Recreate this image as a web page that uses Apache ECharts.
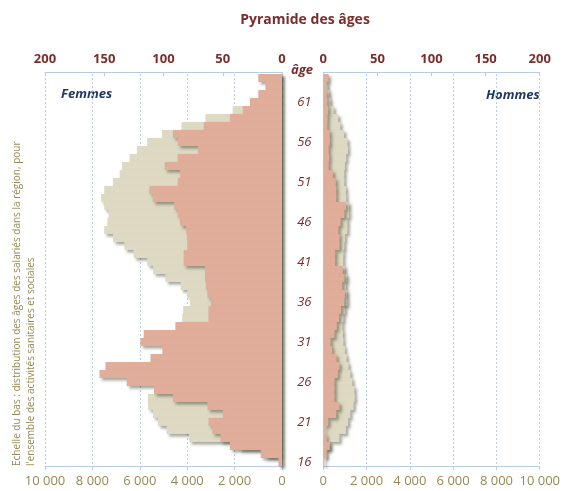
<!DOCTYPE html>
<html><head><meta charset="utf-8">
<script src="https://cdn.jsdelivr.net/npm/echarts@6/dist/echarts.min.js"></script>
<style>html,body{margin:0;padding:0;background:#fff}#c{width:563px;height:491px}</style>
</head><body><div id="c"></div>
<script>
// Ages 16..64 (ascending)
const ages = [];
for (let a = 16; a <= 64; a++) ages.push(a);
// Femmes - bottom scale (region distribution)
const femmesRegion = [100,700,1800,3920,4870,5230,5440,5650,5660,4600,
  4500,4450,4400,4400,4400,4350,4300,4250,4210,4170,
  3880,4000,4280,4915,5440,5690,6260,6650,7130,7500,
  7370,7320,7500,7630,7500,7130,6850,6750,6430,6120,
  5690,5060,4240,3230,2080,1200,900,600,450];
// Femmes - top scale
const femmesTop = [3,18,44,52,59,62,50,63,92,108,
  131,154,149,111,101,119.5,116.7,90,62,62,
  60,63,64,65,65,83,83,80,80,81,
  86,88,91,109,112,88,86,99,88,71,
  88,92,66,44,33,27,20,14,20];
// Hommes - bottom scale
const hommesRegion = [30,100,300,746,1044,1150,1250,1400,1455,1440,
  1343,1250,1170,1080,1000,930,910,880,930,1000,
  1110,1100,1044,1090,1000,920,930,970,1000,1110,
  1120,1190,1190,1060,1044,970,970,1000,1060,1140,
  1120,960,790,690,480,330,270,200,100];
// Hommes - top scale
const hommesTop = [1,3,6,3,1.2,4.6,12,15,10.4,10.4,
  10.4,13.4,15,12.3,8.2,6.8,10.4,12.5,14.5,16.4,
  19.5,20,17.5,19.5,18,11,11,15,15,14,
  16,19.5,21,12,12,11.5,9,5,5.5,5,
  6,6,3.6,3.9,4.5,3.6,3,1.5,5];

const rev = a => a.slice().reverse();
const cats = rev(ages).map(String);

const BEIGE = '#DDD9C3';
const SALMON = '#DFAD9A';
const DARKRED = '#7B2C2C';
const OLIVE = '#948A54';
const GRIDC = '#B8CCE4';
const shadow = {shadowColor:'rgba(60,60,40,0.45)', shadowBlur:3, shadowOffsetX:2.5, shadowOffsetY:2.5};

const fmtBottom = v => v >= 1000 ? (v/1000) + ' 000' : String(v);

function bottomAxis(grid, inverse){
  return {type:'value', gridIndex:grid, position:'bottom', min:0, max:10000, interval:2000, inverse:inverse,
    axisLine:{show:true, lineStyle:{color:GRIDC}}, axisTick:{show:true, length:4, lineStyle:{color:GRIDC}},
    axisLabel:{color:OLIVE, fontSize:13, fontFamily:'Open Sans', margin:9, formatter:fmtBottom},
    splitLine:{show:true, lineStyle:{color:GRIDC, type:[2,2], width:1}}};
}
function topAxis(grid, inverse){
  return {type:'value', gridIndex:grid, position:'top', offset:2, min:0, max:200, interval:50, inverse:inverse,
    axisLine:{show:true, lineStyle:{color:GRIDC}}, axisTick:{show:true, length:4, inside:true, lineStyle:{color:GRIDC}},
    axisLabel:{color:DARKRED, fontSize:13, fontWeight:'bold', fontFamily:'Open Sans', margin:6},
    splitLine:{show:false}};
}

const chart = echarts.init(document.getElementById('c'), null, {renderer:'canvas'});
chart.setOption({
  animation:false,
  title:{text:'Pyramide des âges', left:300, textAlign:'center', top:8,
    textStyle:{color:DARKRED, fontSize:14, fontWeight:'bold', fontFamily:'Open Sans'}},
  grid:[
    {left:45, right:281, top:74, height:392},
    {left:323.3, right:16.3, top:74, height:392}
  ],
  xAxis:[bottomAxis(0,true), topAxis(0,true), bottomAxis(1,false), topAxis(1,false)],
  yAxis:[
    {type:'category', gridIndex:0, data:cats, inverse:true, position:'right',
      axisLine:{show:true, lineStyle:{color:'#BFBFBF'}}, axisTick:{show:false}, axisLabel:{show:false}},
    {type:'category', gridIndex:1, data:cats, inverse:true, position:'left',
      axisLine:{show:true, lineStyle:{color:GRIDC}}, axisTick:{show:false},
      axisLabel:{show:true, align:'center', margin:19, color:DARKRED, fontSize:13, fontStyle:'italic', fontFamily:'Open Sans',
        interval:(i,v)=> (+v) % 5 === 1}}
  ],
  series:[
    {type:'bar', xAxisIndex:0, yAxisIndex:0, data:rev(femmesRegion), barWidth:'100%', barCategoryGap:'0%',
      itemStyle:Object.assign({color:BEIGE}, shadow)},
    {type:'bar', xAxisIndex:1, yAxisIndex:0, data:rev(femmesTop), barWidth:'100%', barGap:'-100%', barCategoryGap:'0%',
      itemStyle:Object.assign({color:SALMON}, shadow)},
    {type:'bar', xAxisIndex:2, yAxisIndex:1, data:rev(hommesRegion), barWidth:'100%', barCategoryGap:'0%',
      itemStyle:Object.assign({color:BEIGE}, shadow)},
    {type:'bar', xAxisIndex:3, yAxisIndex:1, data:rev(hommesTop), barWidth:'100%', barGap:'-100%', barCategoryGap:'0%',
      itemStyle:Object.assign({color:SALMON}, shadow)}
  ],
  graphic:[
    {type:'text', left:61, top:88, style:{text:'Femmes', fill:'#1F3864', font:'italic bold 13px "Open Sans"'}},
    {type:'text', left:486, top:89, style:{text:'Hommes', fill:'#1F3864', font:'italic bold 13px "Open Sans"'}},
    {type:'text', x:302, y:70, style:{text:'âge', fill:DARKRED, font:'italic bold 13px "Open Sans"', textAlign:'center', textVerticalAlign:'middle'}},
    {type:'text', x:17, y:466, rotation:Math.PI/2,
      style:{text:'Echelle du bas : distribution des âges des salariés dans la région, pour', fill:OLIVE,
        font:'10px "Liberation Sans Narrow", "Open Sans"', textAlign:'left', textVerticalAlign:'middle'}},
    {type:'text', x:31, y:466, rotation:Math.PI/2,
      style:{text:"l'ensemble des activités sanitaires et sociales", fill:OLIVE,
        font:'10px "Liberation Sans Narrow", "Open Sans"', textAlign:'left', textVerticalAlign:'middle'}}
  ]
});
</script></body></html>
